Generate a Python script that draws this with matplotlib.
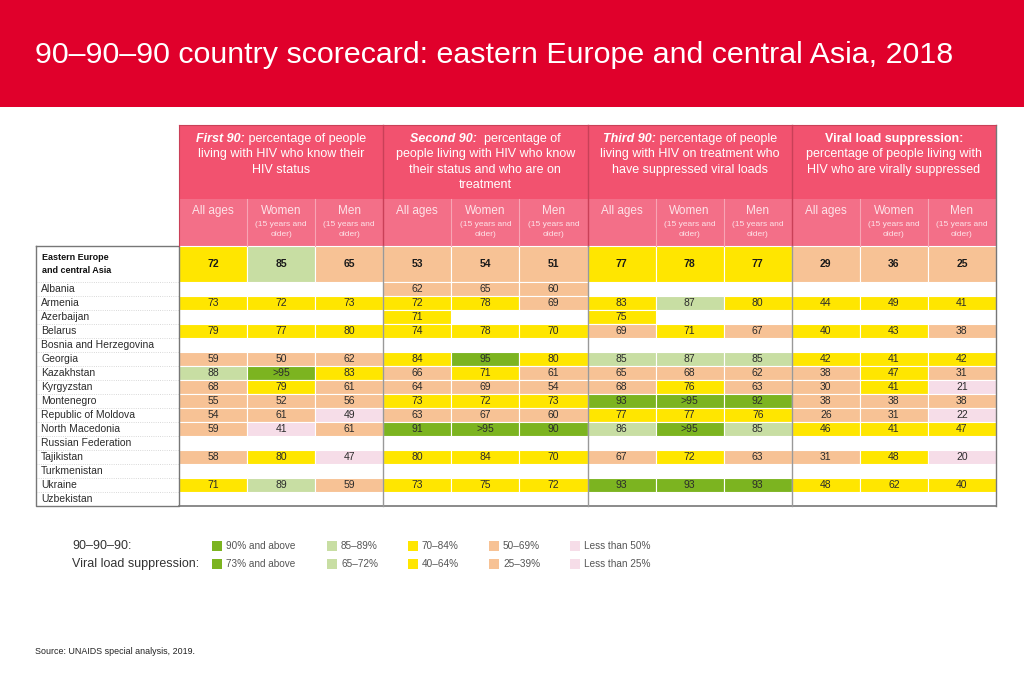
"""
90-90-90 country scorecard: eastern Europe and central Asia, 2018
"""

import matplotlib
matplotlib.use("Agg")
import matplotlib.pyplot as plt
from matplotlib.patches import Rectangle

plt.rcParams['font.family'] = ['Liberation Sans', 'DejaVu Sans']

# ---- data -------------------------------------------------------------
TITLE = "90\u201390\u201390 country scorecard: eastern Europe and central Asia, 2018"

REGION = "Eastern Europe\nand central Asia"
REGION_VALUES = ["72", "85", "65", "53", "54", "51", "77", "78", "77", "29", "36", "25"]

COUNTRIES = ["Albania", "Armenia", "Azerbaijan", "Belarus", "Bosnia and Herzegovina",
             "Georgia", "Kazakhstan", "Kyrgyzstan", "Montenegro", "Republic of Moldova",
             "North Macedonia", "Russian Federation", "Tajikistan", "Turkmenistan",
             "Ukraine", "Uzbekistan"]

# per country: first 90 (all, women, men), second 90, third 90, viral load suppression
first_90 = [["", "", ""], ["73", "72", "73"], ["", "", ""], ["79", "77", "80"],
            ["", "", ""], ["59", "50", "62"], ["88", ">95", "83"], ["68", "79", "61"],
            ["55", "52", "56"], ["54", "61", "49"], ["59", "41", "61"], ["", "", ""],
            ["58", "80", "47"], ["", "", ""], ["71", "89", "59"], ["", "", ""]]
second_90 = [["62", "65", "60"], ["72", "78", "69"], ["71", "", ""], ["74", "78", "70"],
             ["", "", ""], ["84", "95", "80"], ["66", "71", "61"], ["64", "69", "54"],
             ["73", "72", "73"], ["63", "67", "60"], ["91", ">95", "90"], ["", "", ""],
             ["80", "84", "70"], ["", "", ""], ["73", "75", "72"], ["", "", ""]]
third_90 = [["", "", ""], ["83", "87", "80"], ["75", "", ""], ["69", "71", "67"],
            ["", "", ""], ["85", "87", "85"], ["65", "68", "62"], ["68", "76", "63"],
            ["93", ">95", "92"], ["77", "77", "76"], ["86", ">95", "85"], ["", "", ""],
            ["67", "72", "63"], ["", "", ""], ["93", "93", "93"], ["", "", ""]]
viral_load = [["", "", ""], ["44", "49", "41"], ["", "", ""], ["40", "43", "38"],
              ["", "", ""], ["42", "41", "42"], ["38", "47", "31"], ["30", "41", "21"],
              ["38", "38", "38"], ["26", "31", "22"], ["46", "41", "47"], ["", "", ""],
              ["31", "48", "20"], ["", "", ""], ["48", "62", "40"], ["", "", ""]]

GROUP_TITLES = [("First 90:", " percentage of people",
                 ["living with HIV who know their", "HIV status"]),
                ("Second 90:", "  percentage of",
                 ["people living with HIV who know", "their status and who are on", "treatment"]),
                ("Third 90:", " percentage of people",
                 ["living with HIV on treatment who", "have suppressed viral loads"]),
                ("Viral load suppression:", "",
                 ["percentage of people living with", "HIV who are virally suppressed"])]
SUB_HEADERS = ["All ages", "Women", "Men"]

# thresholds (lower bounds) for the five colour bands
BANDS_90 = [90, 85, 70, 50]
BANDS_VLS = [73, 65, 40, 25]
LEGEND_90 = ["90% and above", "85\u201389%", "70\u201384%", "50\u201369%", "Less than 50%"]
LEGEND_VLS = ["73% and above", "65\u201372%", "40\u201364%", "25\u201339%", "Less than 25%"]

SOURCE = "Source: UNAIDS special analysis, 2019."

# ---- style ------------------------------------------------------------
BAND_COLORS = ["#7cb420", "#c8dea3", "#ffe600", "#f7c295", "#f6dde8"]
RED = "#e0002b"
HEAD_TOP = "#f2526f"
HEAD_SUB = "#f36f88"
TEXT = "#2b2b2b"


def band_color(value, bands):
    if value == "":
        return None
    v = 96 if value.startswith(">") else int(value)
    for k, lim in enumerate(bands):
        if v >= lim:
            return BAND_COLORS[k]
    return BAND_COLORS[-1]


def main():
    fig = plt.figure(figsize=(10.24, 6.83), dpi=100)
    ax = fig.add_axes([0, 0, 1, 1])
    ax.set_xlim(0, 1024)
    ax.set_ylim(683, 0)
    ax.axis('off')
    renderer = fig.canvas.get_renderer()

    # title band
    ax.add_patch(Rectangle((0, 0), 1024, 107, color=RED, lw=0))
    ax.text(35, 55, TITLE, color='white', fontsize=21.9, va='center', ha='left')

    # table geometry
    x_label, x_data, x_end = 36, 179, 996
    group_w = (x_end - x_data) / 4
    col_w = group_w / 3
    y_head, y_sub, y_region, y_rows = 125, 199, 246, 282
    row_h = 14
    y_end = y_rows + row_h * len(COUNTRIES)
    line_h = 15.3

    # header
    ax.add_patch(Rectangle((x_data, y_head), x_end - x_data, y_sub - y_head, color=HEAD_TOP, lw=0))
    ax.add_patch(Rectangle((x_data, y_sub), x_end - x_data, y_region - y_sub, color=HEAD_SUB, lw=0))
    for g, (bold, first, rest) in enumerate(GROUP_TITLES):
        xc = x_data + group_w * (g + 0.5)
        style = 'normal' if g == 3 else 'italic'
        parts = [ax.text(0, 139, bold, color='white', fontsize=9, fontweight='bold',
                         fontstyle=style, va='center', ha='left')]
        if first:
            parts.append(ax.text(0, 139, first, color='white', fontsize=9,
                                 va='center', ha='left'))
        widths = [t.get_window_extent(renderer).width for t in parts]
        x = xc - sum(widths) / 2
        for t, w in zip(parts, widths):
            t.set_x(x)
            x += w
        for i, line in enumerate(rest):
            ax.text(xc, 139 + line_h * (i + 1), line, color='white', fontsize=9,
                    va='center', ha='center')
        for c, name in enumerate(SUB_HEADERS):
            cx = x_data + group_w * g + col_w * (c + 0.5)
            ax.text(cx, 211, name, color='#fde3e8', fontsize=8.5, ha='center', va='center')
            if c > 0:
                ax.text(cx, 224, "(15 years and", color='#fde3e8', fontsize=6,
                        ha='center', va='center')
                ax.text(cx, 235, "older)", color='#fde3e8', fontsize=6,
                        ha='center', va='center')
                ax.plot([x_data + group_w * g + col_w * c] * 2, [y_sub, y_region],
                        color='#f8a4b4', lw=0.8)
        if g > 0:
            ax.plot([x_data + group_w * g] * 2, [y_head, y_region], color='#c94058', lw=1)

    # data cells
    columns = [first_90, second_90, third_90, viral_load]
    for g, block in enumerate(columns):
        bands = BANDS_VLS if g == 3 else BANDS_90
        for c in range(3):
            x0 = x_data + group_w * g + col_w * c
            val = REGION_VALUES[g * 3 + c]
            ax.add_patch(Rectangle((x0, y_region), col_w, y_rows - y_region,
                                   facecolor=band_color(val, bands), edgecolor='white', lw=0.8))
            ax.text(x0 + col_w / 2, (y_region + y_rows) / 2, val, fontsize=7.5,
                    fontweight='bold', color='#1a1a1a', ha='center', va='center')
            for r, row in enumerate(block):
                val = row[c]
                color = band_color(val, bands)
                y0 = y_rows + row_h * r
                if color:
                    ax.add_patch(Rectangle((x0, y0), col_w, row_h, facecolor=color,
                                           edgecolor='white', lw=0.8))
                    ax.text(x0 + col_w / 2, y0 + row_h / 2 + 0.5, val, fontsize=7.5,
                            color=TEXT, ha='center', va='center')

    # row labels
    ax.text(x_label + 6, (y_region + y_rows) / 2, REGION, fontsize=6.5, fontweight='bold',
            color='#111111', ha='left', va='center', linespacing=1.6)
    for r, name in enumerate(COUNTRIES):
        y0 = y_rows + row_h * r
        ax.text(x_label + 5, y0 + row_h / 2 + 0.5, name, fontsize=7.5, color=TEXT,
                ha='left', va='center')
        if r > 0:
            ax.plot([x_label, x_data], [y0, y0], color='#cccccc', lw=0.6, ls=':')
    ax.plot([x_label, x_data], [y_rows, y_rows], color='#cccccc', lw=0.6, ls=':')

    # borders
    grey = '#777777'
    ax.plot([x_label, x_data, x_data, x_label, x_label],
            [y_region, y_region, y_end, y_end, y_region], color=grey, lw=1)
    ax.plot([x_data, x_end], [y_end, y_end], color=grey, lw=1.2)
    ax.plot([x_end, x_end], [y_head, y_end], color=grey, lw=1)
    ax.plot([x_data, x_data], [y_head, y_region], color='#c94058', lw=0.8)
    ax.plot([x_data, x_end], [y_head, y_head], color='#c94058', lw=0.8)
    for g in range(1, 4):
        ax.plot([x_data + group_w * g] * 2, [y_region, y_end], color='#999999', lw=1)

    # legend
    legend_x = [212, 327, 408, 489, 570]
    for y, title, labels in [(546, "90\u201390\u201390:", LEGEND_90),
                             (564, "Viral load suppression:", LEGEND_VLS)]:
        ax.text(72, y, title, fontsize=9, color='#333333', ha='left', va='center')
        for k, lab in enumerate(labels):
            ax.add_patch(Rectangle((legend_x[k], y - 5), 10, 10, color=BAND_COLORS[k], lw=0))
            ax.text(legend_x[k] + 14, y, lab, fontsize=7.2, color='#555555',
                    ha='left', va='center')

    ax.text(35, 651, SOURCE, fontsize=6.4, color='#222222', ha='left', va='center')

    fig.savefig("out.png", dpi=100)


if __name__ == "__main__":
    main()
